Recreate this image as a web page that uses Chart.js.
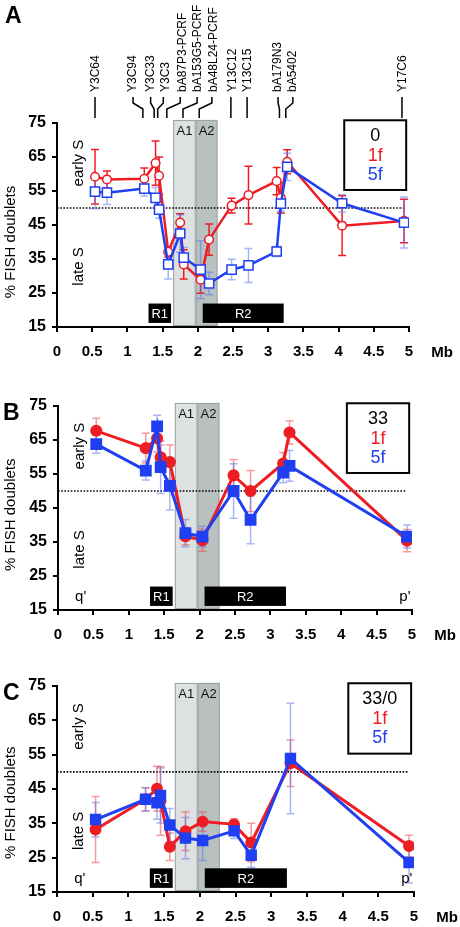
<!DOCTYPE html>
<html><head><meta charset="utf-8">
<script src="https://cdn.jsdelivr.net/npm/chart.js@4/dist/chart.umd.min.js"></script>
<style>
html,body{margin:0;padding:0;background:#fff;}
body{width:460px;height:927px;position:relative;overflow:hidden;}
canvas{position:absolute;left:0;}
</style></head><body>
<canvas id="cA" width="460" height="365" style="top:0px"></canvas>
<canvas id="cB" width="460" height="280" style="top:365px"></canvas>
<canvas id="cC" width="460" height="282" style="top:645px"></canvas>
<script>
// ---------------- data ----------------
const xTickLabels = ['0','0.5','1','1.5','2','2.5','3','3.5','4','4.5','5'];
const yTickLabels = ['15','25','35','45','55','65','75'];
const seriesNames = ['1f','5f'];
const panelLetters = ['A','B','C'];
const panelTitles = ['0','33','33/0'];
const regionNames = ['R1','R2','A1','A2'];
const regionR = [[1.30,1.62],[2.07,3.22]];
const regionA = [[1.65,1.97],[1.97,2.28]];
const markerNames = ['Y3C64','Y3C94','Y3C33','Y3C3','bA87P3-PCRF','bA153G5-PCRF','bA48L24-PCRF','Y13C12','Y13C15','bA179N3','bA5402','Y17C6'];

// Panel A
const posA = [0.54,0.71,1.24,1.40,1.45,1.58,1.75,1.80,2.04,2.16,2.48,2.72,3.12,3.18,3.27,4.05,4.93];
const a1f    = [59.2,58.4,58.6,63.2,59.5,37.1,45.7,33.4,28.9,40.7,50.7,53.8,57.9,53.0,63.6,44.8,46.2];
const a1fErr = [8,2.5,3.2,6.5,5.5,1.5,2.6,4.3,4,4.6,2.2,8.5,4,4.5,3.5,8.8,6.4];
const a5f    = [54.8,54.5,55.7,53.0,49.5,33.4,42.5,35.4,31.9,27.8,31.9,33.1,37.2,51.3,62.1,51.4,45.7];
const a5fErr = [5,3.5,2.2,3,2.5,4.3,5.5,3,8.5,3.3,3,5,1.5,2.2,4,2.6,7.5];

// Panel B
const posB = [0.54,1.24,1.40,1.45,1.58,1.80,2.04,2.48,2.72,3.18,3.27,4.93];
const b1f    = [67.7,62.6,65.5,59.9,58.5,36.7,35.5,54.6,50.0,58.1,67.2,35.4];
const b1fErr = [3.7,4.4,4,3.6,5,2.5,3.2,4.7,6,3.2,3.4,3.3];
const b5f    = [63.8,56.0,69.0,57.0,51.5,37.6,36.6,50.0,41.5,55.4,57.4,36.6];
const b5fErr = [2.7,2.8,3.3,7.7,7.1,4,3,8,7,3,4.5,3.4];

// Panel C
const posC = [0.54,1.24,1.40,1.45,1.58,1.80,2.04,2.48,2.72,3.27,4.93];
const c1f    = [33.2,42.0,45.1,41.5,28.2,32.7,35.5,34.7,29.4,52.5,28.4];
const c1fErr = [9.6,3.4,6.5,10,4,5.6,2.8,1.6,5.6,6.8,3.1];
const c5f    = [36.1,42.0,41.0,43.1,34.5,30.7,30.0,32.8,25.7,53.9,23.6];
const c5fErr = [5,3.4,4.8,8,4.8,6,5.8,2.2,3.5,16.1,6];

// ---------------- drawing ----------------
const FONT = "'Liberation Sans', Arial, Helvetica, sans-serif";
const RED = '#ee1d23', BLUE = '#1f3ff0';
Chart.defaults.font.family = FONT;

// label layout for the locus names above panel A (in Mb)
const markerLayout = {
  text:   [0.555,1.08,1.335,1.55,1.79,2.00,2.22,2.50,2.71,3.14,3.35,4.915],
  top:    [0.54,1.08,1.33,1.51,1.75,1.99,2.20,2.47,2.70,3.14,3.35,4.90],
  bottom: [0.54,1.22,1.38,1.43,1.56,1.79,2.02,2.47,2.70,3.16,3.25,4.90]
};

function pts(xs, ys){ return xs.map((x,i)=>({x:x, y:ys[i]})); }
function vtext(ctx, txt, x, y, align){
  ctx.save(); ctx.translate(x,y); ctx.rotate(-Math.PI/2);
  ctx.textAlign = align || 'center'; ctx.fillText(txt,0,0); ctx.restore();
}

function makePanel(id, cfg){
  const canvas = document.getElementById(id);
  const H = canvas.height;
  const deco = {
    id: 'deco'+id,
    beforeDatasetsDraw(chart){
      const {ctx, chartArea: ca, scales:{x, y}} = chart;
      ctx.save();
      const aFill = ['#dde1e1','#b9c0c0'];
      regionA.forEach((r,i)=>{
        const x0 = x.getPixelForValue(r[0]), x1 = x.getPixelForValue(r[1]);
        const yt = y.getPixelForValue(75.9), yb = ca.bottom - 1;
        ctx.fillStyle = aFill[i]; ctx.fillRect(x0, yt, x1-x0, yb-yt);
        ctx.strokeStyle = '#98a2a2'; ctx.lineWidth = 1;
        ctx.strokeRect(x0+0.5, yt+0.5, x1-x0-1, yb-yt-1);
        ctx.fillStyle = '#111'; ctx.font = '13px '+FONT;
        ctx.textAlign = 'center'; ctx.textBaseline = 'middle';
        ctx.fillText(regionNames[2+i], (x0+x1)/2, y.getPixelForValue(72.6));
      });
      regionR.forEach((r,i)=>{
        const x0 = x.getPixelForValue(r[0]), x1 = x.getPixelForValue(r[1]);
        const yt = y.getPixelForValue(21.9), yb = y.getPixelForValue(16.2);
        ctx.fillStyle = '#000'; ctx.fillRect(x0, yt, x1-x0, yb-yt);
        ctx.fillStyle = '#fff'; ctx.font = '13px '+FONT;
        ctx.textAlign = 'center'; ctx.textBaseline = 'middle';
        ctx.fillText(regionNames[i], (x0+x1)/2, (yt+yb)/2+1);
      });
      // dotted 50% line
      ctx.strokeStyle = '#000'; ctx.lineWidth = 1.6; ctx.setLineDash([1.6,1.6]);
      ctx.beginPath();
      ctx.moveTo(x.getPixelForValue(0), y.getPixelForValue(50));
      ctx.lineTo(x.getPixelForValue(4.92), y.getPixelForValue(50));
      ctx.stroke(); ctx.setLineDash([]);
      // error bars
      chart.data.datasets.slice().reverse().forEach(ds=>{
        ctx.strokeStyle = ds.errColor; ctx.lineWidth = 1.5;
        ds.data.forEach((p,j)=>{
          const e = ds.err[j];
          const px = x.getPixelForValue(p.x);
          const yt = y.getPixelForValue(p.y+e), yb = y.getPixelForValue(p.y-e);
          ctx.beginPath();
          ctx.moveTo(px, yt); ctx.lineTo(px, yb);
          ctx.moveTo(px-4, yt); ctx.lineTo(px+4, yt);
          ctx.moveTo(px-4, yb); ctx.lineTo(px+4, yb);
          ctx.stroke();
        });
      });
      ctx.restore();
    },
    afterDraw(chart){
      const {ctx, chartArea: ca, scales:{x, y}} = chart;
      ctx.save();
      // legend box
      const bx0 = x.getPixelForValue(4.08), bx1 = x.getPixelForValue(4.96);
      const by0 = y.getPixelForValue(75.8), by1 = y.getPixelForValue(55.3);
      ctx.fillStyle = '#fff'; ctx.fillRect(bx0, by0, bx1-bx0, by1-by0);
      ctx.strokeStyle = '#000'; ctx.lineWidth = 2; ctx.strokeRect(bx0, by0, bx1-bx0, by1-by0);
      const cx = (bx0+bx1)/2;
      ctx.font = '18px '+FONT; ctx.textAlign = 'center'; ctx.textBaseline = 'middle';
      ctx.fillStyle = '#000'; ctx.fillText(cfg.title, cx, by0+16);
      ctx.fillStyle = RED; ctx.fillText(seriesNames[0], cx, by0+36);
      ctx.fillStyle = BLUE; ctx.fillText(seriesNames[1], cx, by0+55);
      // early S / late S
      ctx.fillStyle = '#000'; ctx.font = '15px '+FONT; ctx.textBaseline = 'middle';
      vtext(ctx, 'early S', x.getPixelForValue(0.31), y.getPixelForValue(63.2));
      vtext(ctx, 'late S', x.getPixelForValue(0.31), y.getPixelForValue(32.8));
      // y title
      ctx.font = '15px '+FONT;
      vtext(ctx, '% FISH doublets', 11, y.getPixelForValue(cfg.titleY));
      // Mb
      ctx.font = 'bold 15px '+FONT; ctx.textAlign = 'center';
      ctx.fillText('Mb', ca.right + 33, ca.bottom + 26);
      // panel letter
      ctx.font = 'bold 23px '+FONT; ctx.textAlign = 'left'; ctx.textBaseline = 'alphabetic';
      ctx.fillText(cfg.letter, cfg.letterX, cfg.letterY);
      // q' p'
      if (cfg.qp){
        ctx.font = '15px '+FONT; ctx.textAlign = 'center'; ctx.textBaseline = 'middle';
        ctx.fillText("q'", x.getPixelForValue(0.32), y.getPixelForValue(18.8));
        ctx.fillText("p'", x.getPixelForValue(4.9), y.getPixelForValue(18.8));
      }
      // locus names above panel A
      if (cfg.markers){
        ctx.strokeStyle = '#000'; ctx.lineWidth = 1.5; ctx.fillStyle = '#000';
        ctx.font = '12px '+FONT; ctx.textBaseline = 'middle';
        markerNames.forEach((nm,i)=>{
          const tx = x.getPixelForValue(markerLayout.text[i]);
          const lt = x.getPixelForValue(markerLayout.top[i]);
          const lb = x.getPixelForValue(markerLayout.bottom[i]);
          vtext(ctx, nm, tx, ca.top - 31, 'left');
          ctx.beginPath();
          ctx.moveTo(lt, ca.top - 26); ctx.lineTo(lt, ca.top - 20);
          ctx.lineTo(lb, ca.top - 14); ctx.lineTo(lb, ca.top - 5);
          ctx.stroke();
        });
      }
      ctx.restore();
    }
  };

  const common = {showLine: true, tension: 0, pointBorderWidth: 1.5, pointHoverBorderWidth: 1.5};
  return new Chart(canvas, {
    type: 'scatter',
    data: { datasets: [
      Object.assign({}, common, {
        label: seriesNames[1], data: pts(cfg.pos5, cfg.v5), err: cfg.e5, errColor: cfg.blueErr,
        borderColor: BLUE, borderWidth: cfg.lw, pointStyle: 'rect',
        pointRadius: cfg.sqR, pointHoverRadius: cfg.sqR,
        pointBackgroundColor: cfg.filled ? BLUE : '#fff', pointBorderColor: BLUE, order: 0
      }),
      Object.assign({}, common, {
        label: seriesNames[0], data: pts(cfg.pos1, cfg.v1), err: cfg.e1, errColor: cfg.redErr,
        borderColor: RED, borderWidth: cfg.lw, pointStyle: 'circle',
        pointRadius: cfg.ciR, pointHoverRadius: cfg.ciR,
        pointBackgroundColor: cfg.filled ? RED : '#fff', pointBorderColor: RED, order: 1
      })
    ]},
    options: {
      responsive: false, animation: false, devicePixelRatio: 1,
      events: [],
      layout: { padding: { left: 0, top: cfg.top, right: 460 - cfg.right, bottom: 0 } },
      plugins: { legend: {display: false}, tooltip: {enabled: false} },
      scales: {
        x: {
          type: 'linear', min: 0, max: 5,
          afterBuildTicks: s => { s.ticks = xTickLabels.map(t => ({value: parseFloat(t)})); },
          afterFit: s => { s.height = H - cfg.bottom; },
          ticks: { callback: (v, i) => xTickLabels[i], font: {family: FONT, size: 15, weight: 'bold'},
                   color: '#000', padding: 11, maxRotation: 0, autoSkip: false },
          grid: { drawOnChartArea: false, drawTicks: true, tickLength: 5, color: '#000', lineWidth: 2 },
          border: { display: true, color: '#000', width: 2 }
        },
        y: {
          type: 'linear', min: 15, max: 75,
          afterBuildTicks: s => { s.ticks = yTickLabels.map(t => ({value: parseFloat(t)})); },
          afterFit: s => { s.width = cfg.left; },
          ticks: { callback: (v, i) => yTickLabels[i], font: {family: FONT, size: 16, weight: 'bold'},
                   color: '#000', padding: 6, autoSkip: false },
          grid: { drawOnChartArea: false, drawTicks: true, tickLength: 5, color: '#000', lineWidth: 2 },
          border: { display: true, color: '#000', width: 2 }
        }
      }
    },
    plugins: [deco]
  });
}

makePanel('cA', {
  top: 123, bottom: 327, left: 57, right: 409,
  pos1: posA, v1: a1f, e1: a1fErr, pos5: posA, v5: a5f, e5: a5fErr,
  filled: false, sqR: 6.5, ciR: 4.3, lw: 2.5,
  redErr: RED, blueErr: 'rgba(90,120,240,0.55)',
  title: panelTitles[0], letter: panelLetters[0], letterX: 5, letterY: 23,
  titleY: 40, qp: false, markers: true
});
makePanel('cB', {
  top: 41, bottom: 245, left: 58, right: 412,
  pos1: posB, v1: b1f, e1: b1fErr, pos5: posB, v5: b5f, e5: b5fErr,
  filled: true, sqR: 7.3, ciR: 5.3, lw: 3,
  redErr: 'rgba(240,70,70,0.55)', blueErr: 'rgba(80,110,240,0.5)',
  title: panelTitles[1], letter: panelLetters[1], letterX: 3, letterY: 55,
  titleY: 43, qp: true, markers: false
});
makePanel('cC', {
  top: 41, bottom: 247, left: 57, right: 414,
  pos1: posC, v1: c1f, e1: c1fErr, pos5: posC, v5: c5f, e5: c5fErr,
  filled: true, sqR: 7, ciR: 5.2, lw: 3,
  redErr: 'rgba(240,70,70,0.55)', blueErr: 'rgba(80,110,240,0.5)',
  title: panelTitles[2], letter: panelLetters[2], letterX: 3, letterY: 55,
  titleY: 41, qp: true, markers: false
});
</script>
</body></html>
